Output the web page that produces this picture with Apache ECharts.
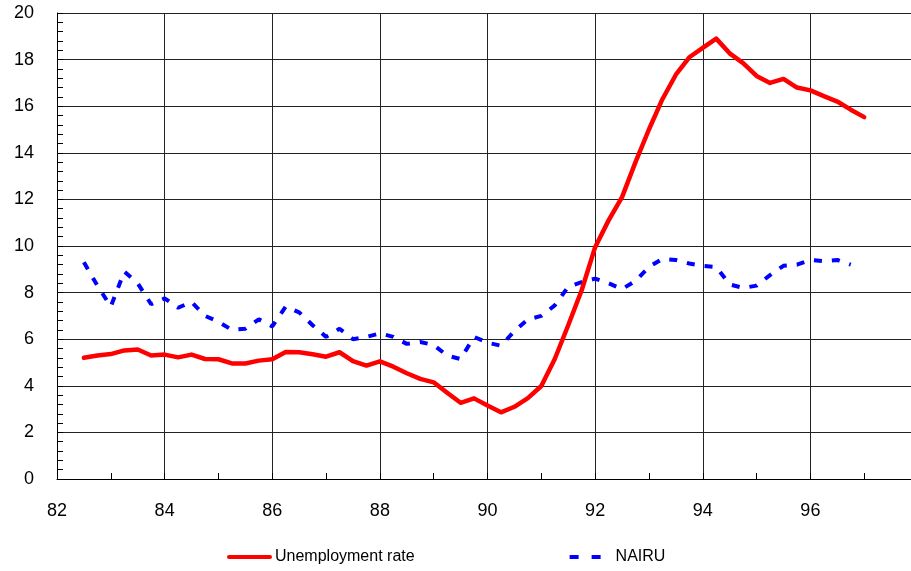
<!DOCTYPE html>
<html>
<head>
<meta charset="utf-8">
<script src="https://cdn.jsdelivr.net/npm/echarts@6/dist/echarts.min.js"></script>
<style>
  html, body { margin: 0; background: #fff; overflow: hidden; }
  /* plot runs a bit past the right edge of the window, like the original */
  #chart { width: 918px; height: 571px; }
</style>
</head>
<body>
<div id="chart"></div>
<script>
// quarterly time points (year, 82.5 = mid 1982)
var quarters = [
  82.5, 82.75,
  83.0, 83.25, 83.5, 83.75,
  84.0, 84.25, 84.5, 84.75,
  85.0, 85.25, 85.5, 85.75,
  86.0, 86.25, 86.5, 86.75,
  87.0, 87.25, 87.5, 87.75,
  88.0, 88.25, 88.5, 88.75,
  89.0, 89.25, 89.5, 89.75,
  90.0, 90.25, 90.5, 90.75,
  91.0, 91.25, 91.5, 91.75,
  92.0, 92.25, 92.5, 92.75,
  93.0, 93.25, 93.5, 93.75,
  94.0, 94.25, 94.5, 94.75,
  95.0, 95.25, 95.5, 95.75,
  96.0, 96.25, 96.5, 96.75,
  97.0
];

var unemployment = [
  5.2, 5.3,
  5.36, 5.52, 5.56, 5.3,
  5.34, 5.22, 5.34, 5.15,
  5.14, 4.96, 4.96, 5.08,
  5.14, 5.45, 5.44, 5.35,
  5.25, 5.44, 5.06, 4.87,
  5.05, 4.82, 4.54, 4.3,
  4.15, 3.7, 3.27, 3.46,
  3.15, 2.86, 3.1, 3.47,
  3.99, 5.15, 6.6, 8.1,
  9.95, 11.1, 12.1, 13.6,
  15.0, 16.3, 17.35, 18.1,
  18.5, 18.9, 18.27, 17.85,
  17.3, 17.0, 17.17, 16.8,
  16.68, 16.43, 16.2, 15.85,
  15.53
];

var nairu = [
  9.3, 8.3,
  7.4, 8.9, 8.4, 7.5,
  7.75, 7.35, 7.6, 7.0,
  6.75, 6.4, 6.45, 6.85,
  6.55, 7.4, 7.15, 6.6,
  6.1, 6.45, 6.0, 6.1,
  6.25, 6.1, 5.8, 5.88,
  5.75, 5.3, 5.15, 6.1,
  5.85, 5.72, 6.35, 6.85,
  7.0, 7.45, 8.25, 8.45,
  8.6, 8.4, 8.15, 8.5,
  9.1, 9.45, 9.4, 9.25,
  9.15, 9.1, 8.35, 8.2,
  8.3, 8.75, 9.15, 9.2,
  9.4, 9.35, 9.4, 9.2
];

function pairs(vals) {
  var out = [];
  for (var i = 0; i < vals.length; i++) {
    out.push([quarters[i], vals[i]]);
  }
  return out;
}

var font = 'Liberation Sans, Arial, sans-serif';
var chart = echarts.init(document.getElementById('chart'));

chart.setOption({
  animation: false,
  backgroundColor: '#fff',
  grid: { left: 57, right: 0, top: 13, bottom: 92 },
  xAxis: {
    type: 'value',
    min: 82,
    max: 98,
    interval: 2,
    axisLine: { show: true, lineStyle: { color: '#000', width: 1 } },
    axisTick: { show: true, inside: true, length: 6, lineStyle: { color: '#000' } },
    minorTick: { show: true, splitNumber: 2, length: 6, lineStyle: { color: '#000' } },
    splitLine: { show: true, lineStyle: { color: '#222', width: 1 } },
    axisLabel: {
      color: '#000', fontSize: 18, fontFamily: font, margin: 23,
      showMaxLabel: false
    }
  },
  yAxis: {
    type: 'value',
    min: 0,
    max: 20,
    interval: 2,
    axisLine: { show: true, lineStyle: { color: '#000', width: 1 } },
    axisTick: { show: true, inside: true, length: 6, lineStyle: { color: '#000' } },
    minorTick: { show: true, splitNumber: 5, length: 6, lineStyle: { color: '#000' } },
    splitLine: { show: true, lineStyle: { color: '#222', width: 1 } },
    axisLabel: { color: '#000', fontSize: 18, fontFamily: font, margin: 23 }
  },
  legend: {
    left: 227, top: 549,
    padding: 0,
    itemWidth: 41, itemHeight: 14,
    itemGap: 153,
    itemStyle: { opacity: 0 },
    lineStyle: { width: 4 },
    data: [
      { name: 'Unemployment rate' },
      { name: 'NAIRU', lineStyle: { width: 4, type: [9, 13, 9, 10] } }
    ],
    textStyle: { color: '#000', fontSize: 16, fontFamily: font }
  },
  series: [
    {
      name: 'Unemployment rate',
      type: 'line',
      symbol: 'none',
      data: pairs(unemployment),
      lineStyle: { color: '#ff0000', width: 4.5, cap: 'round', join: 'round' },
      itemStyle: { color: '#ff0000' },
      z: 3
    },
    {
      name: 'NAIRU',
      type: 'line',
      symbol: 'none',
      data: pairs(nairu),
      lineStyle: { color: '#0000ff', width: 4, type: [8, 10] },
      itemStyle: { color: '#0000ff' },
      z: 2
    }
  ]
});
</script>
</body>
</html>
